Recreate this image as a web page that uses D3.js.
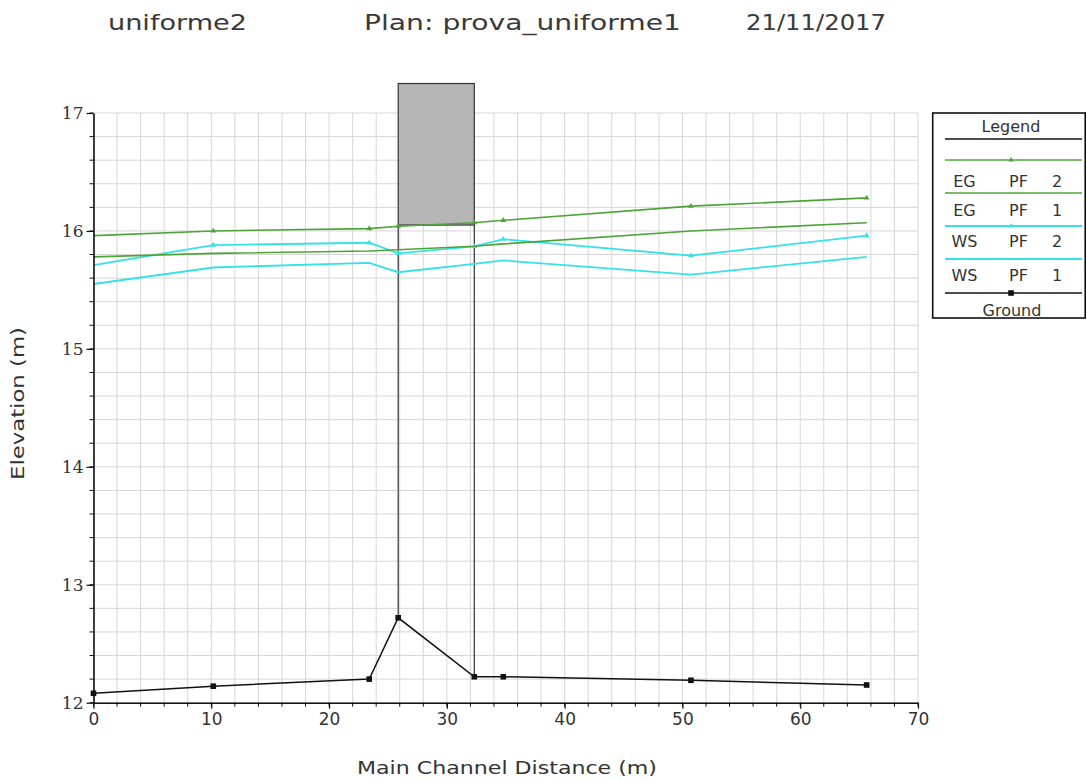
<!DOCTYPE html>
<html>
<head>
<meta charset="utf-8">
<script src="https://cdn.jsdelivr.net/npm/d3@7"></script>
<style>
  body { margin: 0; background: #fff; }
  svg text { fill: #333; }
</style>
</head>
<body>
<div id="chart"></div>
<script>
// profile data (station in m, elevation in m)
const stations = [0, 10.17, 23.41, 25.87, 32.33, 34.79, 50.72, 65.64];
const ground = [12.08, 12.14, 12.2, 12.72, 12.22, 12.22, 12.19, 12.15];
const egPF2 = [15.96, 16.0, 16.02, 16.04, 16.07, 16.09, 16.21, 16.28];
const egPF1 = [15.78, 15.81, 15.83, 15.84, 15.87, 15.89, 16.0, 16.07];
const wsPF2 = [15.71, 15.88, 15.9, 15.81, 15.87, 15.93, 15.79, 15.96];
const wsPF1 = [15.55, 15.69, 15.73, 15.65, 15.72, 15.75, 15.63, 15.78];

// bridge deck
const bridgeStations = [25.87, 32.33];
const lowChord = 16.05;
const highChord = 17.25;

const titles = ["uniforme2", "Plan: prova_uniforme1", "21/11/2017"];
const xTicks = [0, 10, 20, 30, 40, 50, 60, 70];
const yTicks = [12, 13, 14, 15, 16, 17];
const legendLabels = ["EG PF 2", "EG PF 1", "WS PF 2", "WS PF 1", "Ground"];

const props = {
    eg: "#4ca436",
    ws: "#34e2e6",
    ground: "#111",
    grid: "#d6d6d6",
    deck: "#b6b6b6"
};

const width = 1087, height = 780;
const svg = d3.select("#chart").append("svg")
    .attr("width", width).attr("height", height);

const x = d3.scaleLinear().domain([0, 70]).range([93.5, 918]);
const y = d3.scaleLinear().domain([12, 17]).range([702.7, 113]);

// grid
const gridG = svg.append("g").attr("class", "grid");
gridG.selectAll(".vGrid")
    .data(d3.range(0, 70.01, 2))
    .join("line")
    .attr("x1", (d) => x(d)).attr("x2", (d) => x(d))
    .attr("y1", y(12)).attr("y2", y(17))
    .attr("stroke", props.grid).attr("stroke-width", 1);
gridG.selectAll(".hGrid")
    .data(d3.range(0, 25.01, 1).map((i) => 12 + i * 0.2))
    .join("line")
    .attr("x1", x(0)).attr("x2", x(70))
    .attr("y1", (d) => y(d)).attr("y2", (d) => y(d))
    .attr("stroke", props.grid).attr("stroke-width", 1);

// bridge deck + piers
const bridgeG = svg.append("g");
bridgeG.append("rect")
    .attr("x", x(bridgeStations[0]))
    .attr("y", y(highChord))
    .attr("width", x(bridgeStations[1]) - x(bridgeStations[0]))
    .attr("height", y(lowChord) - y(highChord))
    .attr("fill", props.deck)
    .attr("stroke", "#333").attr("stroke-width", 1.2);
bridgeStations.forEach((s) => {
    const gi = stations.indexOf(s);
    bridgeG.append("line")
        .attr("x1", x(s)).attr("x2", x(s))
        .attr("y1", y(lowChord)).attr("y2", y(ground[gi]))
        .attr("stroke", "#333").attr("stroke-width", 1.2);
});

// series
const series = [
    {name: "EG PF 2", values: egPF2, color: props.eg, marker: "tri", width: 1.6},
    {name: "EG PF 1", values: egPF1, color: props.eg, marker: null, width: 1.6},
    {name: "WS PF 2", values: wsPF2, color: props.ws, marker: "tri", width: 1.8},
    {name: "WS PF 1", values: wsPF1, color: props.ws, marker: null, width: 1.8},
    {name: "Ground", values: ground, color: props.ground, marker: "square", width: 1.5}
];

const line = d3.line()
    .x((d) => x(d[0]))
    .y((d) => y(d[1]));

const seriesG = svg.append("g");
series.slice().reverse().forEach((s) => {
    const pts = stations.map((st, i) => [st, s.values[i]]);
    seriesG.append("path")
        .attr("d", line(pts))
        .attr("fill", "none")
        .attr("stroke", s.color)
        .attr("stroke-width", s.width);
    if (s.marker === "square") {
        seriesG.selectAll(null).data(pts).join("rect")
            .attr("x", (d) => x(d[0]) - 2.8).attr("y", (d) => y(d[1]) - 2.8)
            .attr("width", 5.6).attr("height", 5.6)
            .attr("fill", s.color);
    } else if (s.marker === "tri") {
        seriesG.selectAll(null).data(pts.slice(1)).join("path")
            .attr("d", d3.symbol(d3.symbolTriangle, 14))
            .attr("transform", (d) => `translate(${x(d[0])},${y(d[1])})`)
            .attr("fill", s.color);
    }
});

// axes
const yAxis = svg.append("g")
    .attr("transform", `translate(${x(0)},0)`)
    .call(d3.axisLeft(y).tickValues(yTicks).tickSize(7).tickPadding(3).tickSizeOuter(0).tickFormat(d3.format("d")));
yAxis.append("g").selectAll("line")
    .data(d3.range(0, 25.01, 1).map((i) => 12 + i * 0.2))
    .join("line")
    .attr("x1", -4).attr("x2", 0)
    .attr("y1", (d) => y(d)).attr("y2", (d) => y(d))
    .attr("stroke", "#111");
yAxis.selectAll("text")
    .attr("font-family", "'DejaVu Serif', serif")
    .attr("font-size", 17)
    .style("fill", "#333");

const xAxis = svg.append("g")
    .attr("transform", `translate(0,${y(12)})`)
    .call(d3.axisBottom(x).tickValues(xTicks).tickSize(6).tickPadding(4).tickSizeOuter(0).tickFormat(d3.format("d")));
xAxis.append("g").selectAll("line")
    .data(d3.range(0, 70.01, 2))
    .join("line")
    .attr("x1", (d) => x(d)).attr("x2", (d) => x(d))
    .attr("y1", 0).attr("y2", 4)
    .attr("stroke", "#111");
xAxis.selectAll("text")
    .attr("font-family", "'DejaVu Sans', sans-serif")
    .attr("font-size", 17)
    .style("fill", "#333");
[yAxis, xAxis].forEach((a) => {
    a.select(".domain").attr("stroke", "#111").attr("stroke-width", 1.6);
    a.selectAll(".tick line").attr("stroke", "#111").attr("stroke-width", 1.2);
});

// axis titles
svg.append("text")
    .attr("x", 357).attr("y", 774)
    .attr("font-family", "'DejaVu Sans', sans-serif")
    .attr("font-size", 17)
    .attr("textLength", 300)
    .attr("lengthAdjust", "spacingAndGlyphs")
    .text("Main Channel Distance (m)");
svg.append("text")
    .attr("transform", "translate(24,480) rotate(-90)")
    .attr("font-family", "'DejaVu Sans', sans-serif")
    .attr("font-size", 17)
    .attr("textLength", 153)
    .attr("lengthAdjust", "spacingAndGlyphs")
    .text("Elevation (m)");

// title
const titleX = [108, 364, 746];
const titleW = [139, 317, 140];
svg.selectAll(".title")
    .data(titles)
    .join("text")
    .attr("class", "title")
    .attr("x", (d, i) => titleX[i]).attr("y", 30)
    .attr("font-family", "'DejaVu Sans', sans-serif")
    .attr("font-size", 21)
    .attr("textLength", (d, i) => titleW[i])
    .attr("lengthAdjust", "spacingAndGlyphs")
    .style("fill", "#3a3a3a")
    .text((d) => d);

// legend
const legG = svg.append("g");
legG.append("rect")
    .attr("x", 932.7).attr("y", 113)
    .attr("width", 152.5).attr("height", 205)
    .attr("fill", "#fff").attr("stroke", "#111").attr("stroke-width", 1.6);
legG.append("text")
    .attr("x", 1011).attr("y", 132)
    .attr("text-anchor", "middle")
    .attr("font-family", "'DejaVu Sans', sans-serif")
    .attr("font-size", 16)
    .text("Legend");
legG.append("line")
    .attr("x1", 945).attr("x2", 1082).attr("y1", 139).attr("y2", 139)
    .attr("stroke", "#111").attr("stroke-width", 1.4);

const legLineY = [160, 193, 226, 259, 293];
const legTextY = [181, 210, 241, 275, 310];
series.forEach((s, i) => {
    legG.append("line")
        .attr("x1", 945).attr("x2", 1082)
        .attr("y1", legLineY[i]).attr("y2", legLineY[i])
        .attr("stroke", s.color).attr("stroke-width", s.width);
    if (s.marker === "square") {
        legG.append("rect")
            .attr("x", 1011 - 2.8).attr("y", legLineY[i] - 2.8)
            .attr("width", 5.6).attr("height", 5.6).attr("fill", s.color);
    } else if (s.marker === "tri") {
        legG.append("path")
            .attr("d", d3.symbol(d3.symbolTriangle, 12))
            .attr("transform", `translate(1011,${legLineY[i]})`)
            .attr("fill", s.color);
    }
    const parts = legendLabels[i].split(" ");
    const t = legG.append("text")
        .attr("y", legTextY[i] + 6)
        .attr("font-family", "'DejaVu Sans', sans-serif")
        .attr("font-size", 16);
    if (parts.length === 3) {
        const colX = [964.5, 1018.5, 1057];
        parts.forEach((p, j) => {
            t.append("tspan").attr("x", colX[j]).attr("text-anchor", "middle").text(p);
        });
    } else {
        t.attr("x", 1012).attr("text-anchor", "middle").text(legendLabels[i]);
    }
});
</script>
</body>
</html>
